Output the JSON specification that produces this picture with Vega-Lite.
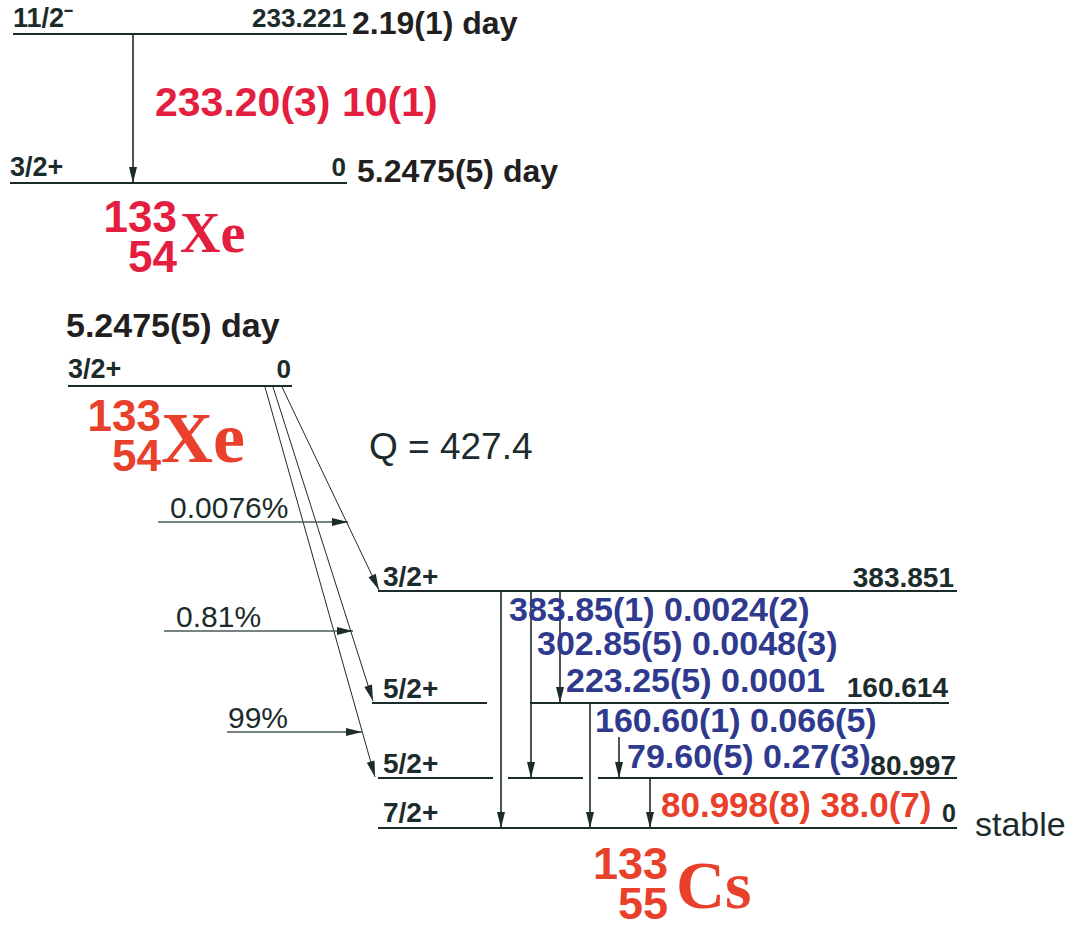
{
  "$schema": "https://vega.github.io/schema/vega-lite/v6.json",
  "width": 1072,
  "height": 926,
  "autosize": {"type": "none"},
  "padding": 0,
  "background": "white",
  "config": {"view": {"stroke": null}},
  "datasets": {
    "levels": [
      {"x": 13, "y": 34, "x2": 347, "y2": 34},
      {"x": 10, "y": 183, "x2": 347, "y2": 183},
      {"x": 68, "y": 386, "x2": 292, "y2": 386},
      {"x": 378, "y": 591, "x2": 957, "y2": 591},
      {"x": 372, "y": 703, "x2": 487, "y2": 703},
      {"x": 530, "y": 703, "x2": 949, "y2": 703},
      {"x": 378, "y": 778, "x2": 493, "y2": 778},
      {"x": 508, "y": 778, "x2": 583, "y2": 778},
      {"x": 598, "y": 778, "x2": 957, "y2": 778},
      {"x": 378, "y": 828, "x2": 957, "y2": 828}
    ],
    "arrows": [
      {"k": "g", "x": 133, "y": 34, "x2": 133, "y2": 183},
      {"k": "g", "x": 501, "y": 591, "x2": 501, "y2": 828},
      {"k": "g", "x": 531, "y": 591, "x2": 531, "y2": 778},
      {"k": "g", "x": 560, "y": 591, "x2": 560, "y2": 703},
      {"k": "g", "x": 590, "y": 703, "x2": 590, "y2": 828},
      {"k": "g", "x": 619, "y": 737, "x2": 619, "y2": 778},
      {"k": "g", "x": 650, "y": 778, "x2": 650, "y2": 828},
      {"k": "b", "x": 282, "y": 387, "x2": 379, "y2": 590},
      {"k": "b", "x": 273, "y": 387, "x2": 373, "y2": 701},
      {"k": "b", "x": 265, "y": 387, "x2": 375, "y2": 777},
      {"k": "f", "x": 158, "y": 522, "x2": 348, "y2": 522},
      {"k": "f", "x": 164, "y": 631, "x2": 353, "y2": 631},
      {"k": "f", "x": 227, "y": 732, "x2": 362, "y2": 732}
    ],
    "texts": [
      {"s": "spin", "t": "11/2⁻", "x": 13, "y": 27},
      {"s": "spin", "t": "3/2+", "x": 10, "y": 176},
      {"s": "spin", "t": "3/2+", "x": 68, "y": 378},
      {"s": "spinCs", "t": "3/2+", "x": 383, "y": 586},
      {"s": "spinCs", "t": "5/2+", "x": 383, "y": 698},
      {"s": "spinCs", "t": "5/2+", "x": 383, "y": 773},
      {"s": "spinCs", "t": "7/2+", "x": 383, "y": 822},
      {"s": "energy", "t": "233.221", "x": 346, "y": 27},
      {"s": "energy", "t": "0", "x": 346, "y": 176},
      {"s": "energy", "t": "0", "x": 291, "y": 378},
      {"s": "energyCs", "t": "383.851", "x": 954, "y": 587},
      {"s": "energyCs", "t": "160.614", "x": 948, "y": 697},
      {"s": "energyCs", "t": "80.997", "x": 956, "y": 775},
      {"s": "energyCs0", "t": "0", "x": 956, "y": 822},
      {"s": "halflife", "t": "2.19(1) day", "x": 352, "y": 34},
      {"s": "halflife", "t": "5.2475(5) day", "x": 357, "y": 182},
      {"s": "halflifeBig", "t": "5.2475(5) day", "x": 66, "y": 337},
      {"s": "gammaTop", "t": "233.20(3) 10(1)", "x": 155, "y": 116},
      {"s": "gammaBlue", "t": "383.85(1) 0.0024(2)", "x": 509, "y": 621},
      {"s": "gammaBlue", "t": "302.85(5) 0.0048(3)", "x": 537, "y": 655},
      {"s": "gammaBlue", "t": "223.25(5) 0.0001", "x": 566, "y": 692},
      {"s": "gammaBlue", "t": "160.60(1) 0.066(5)", "x": 595, "y": 732},
      {"s": "gammaBlue", "t": "79.60(5) 0.27(3)", "x": 627, "y": 768},
      {"s": "gammaRed", "t": "80.998(8) 38.0(7)", "x": 661, "y": 817},
      {"s": "massTop", "t": "133", "x": 177, "y": 232},
      {"s": "massTop", "t": "54", "x": 177, "y": 272},
      {"s": "massXe", "t": "133", "x": 161, "y": 431},
      {"s": "massXe", "t": "54", "x": 161, "y": 471},
      {"s": "massCs", "t": "133", "x": 668, "y": 879},
      {"s": "massCs", "t": "55", "x": 668, "y": 919},
      {"s": "elemTop", "t": "Xe", "x": 180, "y": 252},
      {"s": "elemXe", "t": "Xe", "x": 161, "y": 462},
      {"s": "elemCs", "t": "Cs", "x": 676, "y": 908},
      {"s": "plainQ", "t": "Q = 427.4", "x": 369, "y": 459},
      {"s": "plainStable", "t": "stable", "x": 975, "y": 836},
      {"s": "plainPct", "t": "0.0076%", "x": 170, "y": 518},
      {"s": "plainPct", "t": "0.81%", "x": 176, "y": 627},
      {"s": "plainPct", "t": "99%", "x": 228, "y": 728}
    ]
  },
  "encoding": {
    "x": {"field": "x", "type": "quantitative", "scale": {"domain": [0, 1072], "nice": false, "zero": false}, "axis": null},
    "y": {"field": "y", "type": "quantitative", "scale": {"domain": [0, 926], "nice": false, "zero": false, "reverse": true}, "axis": null}
  },
  "layer": [
    {
      "data": {"name": "levels"},
      "mark": {"type": "rule", "strokeWidth": 2, "color": "#1c2b2b"},
      "encoding": {"x2": {"field": "x2"}, "y2": {"field": "y2"}}
    },
    {
      "data": {"name": "arrows"},
      "transform": [{"filter": "datum.k === 'g'"}],
      "mark": {"type": "rule", "strokeWidth": 1.6, "color": "#1c2b2b"},
      "encoding": {"x2": {"field": "x2"}, "y2": {"field": "y2"}}
    },
    {
      "data": {"name": "arrows"},
      "transform": [{"filter": "datum.k === 'b'"}],
      "mark": {"type": "rule", "strokeWidth": 1, "color": "#1c2b2b"},
      "encoding": {"x2": {"field": "x2"}, "y2": {"field": "y2"}}
    },
    {
      "data": {"name": "arrows"},
      "transform": [{"filter": "datum.k === 'f'"}],
      "mark": {"type": "rule", "strokeWidth": 1.3, "color": "#4a5858"},
      "encoding": {"x2": {"field": "x2"}, "y2": {"field": "y2"}}
    },
    {
      "data": {"name": "arrows"},
      "transform": [{"calculate": "atan2(-(datum.x2 - datum.x), datum.y2 - datum.y) * 180 / PI", "as": "ang"}],
      "mark": {"type": "point", "shape": "M-0.5,-2L0.5,-2L0,0Z", "filled": true, "size": 256, "color": "#1c2b2b", "opacity": 1},
      "encoding": {
        "x": {"field": "x2", "type": "quantitative", "scale": {"domain": [0, 1072], "nice": false, "zero": false}, "axis": null},
        "y": {"field": "y2", "type": "quantitative", "scale": {"domain": [0, 926], "nice": false, "zero": false, "reverse": true}, "axis": null},
        "angle": {"field": "ang", "type": "quantitative", "scale": null}
      }
    },
    {
      "data": {"name": "texts"},
      "transform": [{"filter": "datum.s === 'spin'"}],
      "mark": {"type": "text", "font": "Liberation Sans", "fontWeight": "bold", "fontSize": 27, "align": "left", "baseline": "alphabetic", "color": "#1c2b2b"},
      "encoding": {"text": {"field": "t"}}
    },
    {
      "data": {"name": "texts"},
      "transform": [{"filter": "datum.s === 'spinCs'"}],
      "mark": {"type": "text", "font": "Liberation Sans", "fontWeight": "bold", "fontSize": 28, "align": "left", "baseline": "alphabetic", "color": "#1c2b2b"},
      "encoding": {"text": {"field": "t"}}
    },
    {
      "data": {"name": "texts"},
      "transform": [{"filter": "datum.s === 'energy'"}],
      "mark": {"type": "text", "font": "Liberation Sans", "fontWeight": "bold", "fontSize": 26, "align": "right", "baseline": "alphabetic", "color": "#1c2b2b"},
      "encoding": {"text": {"field": "t"}}
    },
    {
      "data": {"name": "texts"},
      "transform": [{"filter": "datum.s === 'energyCs'"}],
      "mark": {"type": "text", "font": "Liberation Sans", "fontWeight": "bold", "fontSize": 28, "align": "right", "baseline": "alphabetic", "color": "#1c2b2b"},
      "encoding": {"text": {"field": "t"}}
    },
    {
      "data": {"name": "texts"},
      "transform": [{"filter": "datum.s === 'energyCs0'"}],
      "mark": {"type": "text", "font": "Liberation Sans", "fontWeight": "bold", "fontSize": 25, "align": "right", "baseline": "alphabetic", "color": "#1c2b2b"},
      "encoding": {"text": {"field": "t"}}
    },
    {
      "data": {"name": "texts"},
      "transform": [{"filter": "datum.s === 'halflife'"}],
      "mark": {"type": "text", "font": "Liberation Sans", "fontWeight": "bold", "fontSize": 32, "align": "left", "baseline": "alphabetic", "color": "#231f20"},
      "encoding": {"text": {"field": "t"}}
    },
    {
      "data": {"name": "texts"},
      "transform": [{"filter": "datum.s === 'halflifeBig'"}],
      "mark": {"type": "text", "font": "Liberation Sans", "fontWeight": "bold", "fontSize": 34, "align": "left", "baseline": "alphabetic", "color": "#231f20"},
      "encoding": {"text": {"field": "t"}}
    },
    {
      "data": {"name": "texts"},
      "transform": [{"filter": "datum.s === 'gammaTop'"}],
      "mark": {"type": "text", "font": "Liberation Sans", "fontWeight": "bold", "fontSize": 41, "align": "left", "baseline": "alphabetic", "color": "#e31e3f"},
      "encoding": {"text": {"field": "t"}}
    },
    {
      "data": {"name": "texts"},
      "transform": [{"filter": "datum.s === 'gammaBlue'"}],
      "mark": {"type": "text", "font": "Liberation Sans", "fontWeight": "bold", "fontSize": 34, "align": "left", "baseline": "alphabetic", "color": "#2f3a8e"},
      "encoding": {"text": {"field": "t"}}
    },
    {
      "data": {"name": "texts"},
      "transform": [{"filter": "datum.s === 'gammaRed'"}],
      "mark": {"type": "text", "font": "Liberation Sans", "fontWeight": "bold", "fontSize": 35, "align": "left", "baseline": "alphabetic", "color": "#e8402a"},
      "encoding": {"text": {"field": "t"}}
    },
    {
      "data": {"name": "texts"},
      "transform": [{"filter": "datum.s === 'massTop'"}],
      "mark": {"type": "text", "font": "Liberation Sans", "fontWeight": "bold", "fontSize": 44, "align": "right", "baseline": "alphabetic", "color": "#e31e3f"},
      "encoding": {"text": {"field": "t"}}
    },
    {
      "data": {"name": "texts"},
      "transform": [{"filter": "datum.s === 'massXe'"}],
      "mark": {"type": "text", "font": "Liberation Sans", "fontWeight": "bold", "fontSize": 44, "align": "right", "baseline": "alphabetic", "color": "#e8402a"},
      "encoding": {"text": {"field": "t"}}
    },
    {
      "data": {"name": "texts"},
      "transform": [{"filter": "datum.s === 'massCs'"}],
      "mark": {"type": "text", "font": "Liberation Sans", "fontWeight": "bold", "fontSize": 45, "align": "right", "baseline": "alphabetic", "color": "#e8402a"},
      "encoding": {"text": {"field": "t"}}
    },
    {
      "data": {"name": "texts"},
      "transform": [{"filter": "datum.s === 'elemTop'"}],
      "mark": {"type": "text", "font": "Liberation Serif", "fontWeight": "bold", "fontSize": 56, "align": "left", "baseline": "alphabetic", "color": "#e31e3f"},
      "encoding": {"text": {"field": "t"}}
    },
    {
      "data": {"name": "texts"},
      "transform": [{"filter": "datum.s === 'elemXe'"}],
      "mark": {"type": "text", "font": "Liberation Serif", "fontWeight": "bold", "fontSize": 72, "align": "left", "baseline": "alphabetic", "color": "#e8402a"},
      "encoding": {"text": {"field": "t"}}
    },
    {
      "data": {"name": "texts"},
      "transform": [{"filter": "datum.s === 'elemCs'"}],
      "mark": {"type": "text", "font": "Liberation Serif", "fontWeight": "bold", "fontSize": 68, "align": "left", "baseline": "alphabetic", "color": "#e8402a"},
      "encoding": {"text": {"field": "t"}}
    },
    {
      "data": {"name": "texts"},
      "transform": [{"filter": "datum.s === 'plainQ'"}],
      "mark": {"type": "text", "font": "Liberation Sans", "fontSize": 37, "align": "left", "baseline": "alphabetic", "color": "#1c2b2b"},
      "encoding": {"text": {"field": "t"}}
    },
    {
      "data": {"name": "texts"},
      "transform": [{"filter": "datum.s === 'plainStable'"}],
      "mark": {"type": "text", "font": "Liberation Sans", "fontSize": 34, "align": "left", "baseline": "alphabetic", "color": "#1c2b2b"},
      "encoding": {"text": {"field": "t"}}
    },
    {
      "data": {"name": "texts"},
      "transform": [{"filter": "datum.s === 'plainPct'"}],
      "mark": {"type": "text", "font": "Liberation Sans", "fontSize": 30, "align": "left", "baseline": "alphabetic", "color": "#1c2b2b"},
      "encoding": {"text": {"field": "t"}}
    }
  ]
}
